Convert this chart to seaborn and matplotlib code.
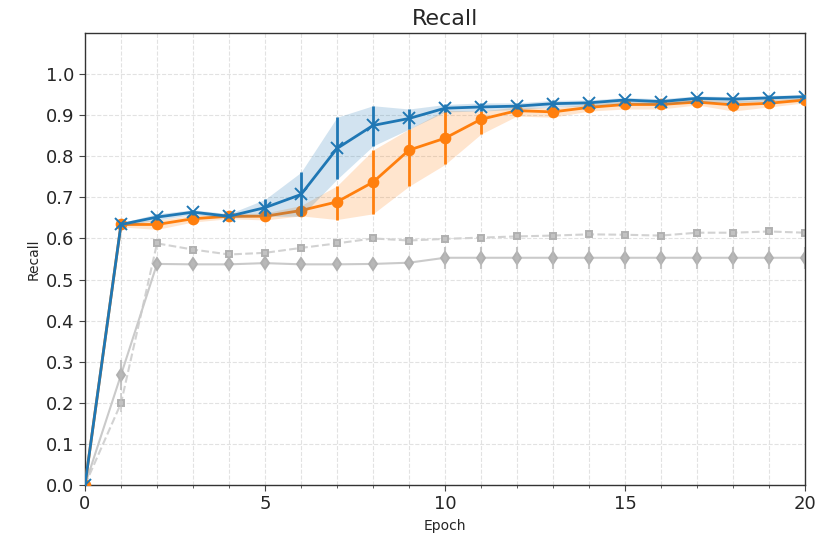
import numpy as np
import pandas as pd
import matplotlib
matplotlib.use("Agg")
import matplotlib.pyplot as plt
import seaborn as sns
from matplotlib.ticker import MultipleLocator

epochs = list(range(21))

blue_mean = [0.0, 0.634, 0.652, 0.664, 0.654, 0.675, 0.707, 0.819, 0.875, 0.892, 0.917,
             0.920, 0.922, 0.928, 0.930, 0.937, 0.933, 0.941, 0.939, 0.942, 0.945]
blue_lo = [0.0, 0.630, 0.645, 0.658, 0.650, 0.654, 0.654, 0.744, 0.825, 0.866, 0.908,
           0.910, 0.914, 0.920, 0.922, 0.930, 0.925, 0.934, 0.930, 0.935, 0.940]
blue_hi = [0.0, 0.638, 0.660, 0.670, 0.660, 0.695, 0.761, 0.895, 0.923, 0.915, 0.926,
           0.930, 0.930, 0.936, 0.937, 0.943, 0.940, 0.947, 0.945, 0.948, 0.950]

orange_mean = [0.0, 0.634, 0.634, 0.648, 0.654, 0.654, 0.668, 0.689, 0.737, 0.815, 0.844,
               0.890, 0.911, 0.908, 0.919, 0.926, 0.926, 0.932, 0.925, 0.929, 0.937]
orange_lo = [0.0, 0.628, 0.622, 0.640, 0.648, 0.645, 0.655, 0.646, 0.660, 0.727, 0.780,
             0.854, 0.898, 0.895, 0.910, 0.915, 0.915, 0.925, 0.910, 0.920, 0.930]
orange_hi = [0.0, 0.640, 0.645, 0.656, 0.660, 0.662, 0.680, 0.728, 0.815, 0.866, 0.912,
             0.910, 0.920, 0.918, 0.927, 0.935, 0.934, 0.940, 0.935, 0.938, 0.943]

sq_mean = [0.0, 0.199, 0.588, 0.573, 0.561, 0.565, 0.577, 0.588, 0.600, 0.595, 0.599,
           0.602, 0.605, 0.607, 0.610, 0.609, 0.607, 0.614, 0.614, 0.617, 0.614]
sq_lo = [0.0, 0.178, 0.583, 0.568, 0.556, 0.560, 0.572, 0.583, 0.595, 0.590, 0.594,
         0.597, 0.600, 0.602, 0.605, 0.604, 0.602, 0.609, 0.609, 0.612, 0.609]
sq_hi = [0.0, 0.224, 0.593, 0.578, 0.566, 0.570, 0.582, 0.593, 0.605, 0.600, 0.604,
         0.607, 0.610, 0.612, 0.615, 0.614, 0.612, 0.619, 0.619, 0.622, 0.619]

dm_mean = [0.0, 0.268, 0.538, 0.537, 0.537, 0.540, 0.537, 0.537, 0.538, 0.541, 0.553,
           0.553, 0.553, 0.553, 0.553, 0.553, 0.553, 0.553, 0.553, 0.553, 0.553]
dm_lo = [0.0, 0.232, 0.534, 0.533, 0.533, 0.536, 0.533, 0.533, 0.534, 0.537, 0.526,
         0.526, 0.526, 0.526, 0.526, 0.526, 0.526, 0.526, 0.526, 0.526, 0.526]
dm_hi = [0.0, 0.305, 0.542, 0.541, 0.541, 0.544, 0.541, 0.541, 0.542, 0.545, 0.580,
         0.580, 0.580, 0.580, 0.580, 0.580, 0.580, 0.580, 0.580, 0.580, 0.580]

sns.set_style("ticks")
plt.rcParams['font.family'] = ['DejaVu Sans']

fig = plt.figure(figsize=(8.31, 5.36), dpi=100)
ax = fig.add_axes([85/831, 1 - 485/536, 720/831, 452/536])

BLUE = '#1f77b4'
ORANGE = '#ff7f0e'

def draw(mean, lo, hi, color, marker, ms, lw, ls, mcolor, mec, alpha_band, z, band=True,
         elw=2.0, ealpha=1.0, malpha=1.0):
    df = pd.DataFrame({'Epoch': epochs, 'Recall': mean})
    sns.lineplot(data=df, x='Epoch', y='Recall', ax=ax, color=color, linewidth=lw,
                 linestyle=ls, marker=marker, markersize=ms, markerfacecolor=mcolor,
                 markeredgecolor=mec, markeredgewidth=1.4, zorder=z)
    if band:
        ax.fill_between(epochs, lo, hi, color=color, alpha=alpha_band, linewidth=0, zorder=z - 1)
    m = np.array(mean); l = np.array(lo); h = np.array(hi)
    ax.errorbar(epochs, mean, yerr=[m - l, h - m], fmt='none', ecolor=mcolor if not band else color,
                elinewidth=elw, capsize=0, alpha=ealpha, zorder=z)

draw(sq_mean, sq_lo, sq_hi, '#d2d2d2', 's', 5, 1.5, '--', '#c2c2c2', '#b0b0b0', 0.0, 2,
     band=False, elw=1.2, ealpha=0.8)
draw(dm_mean, dm_lo, dm_hi, '#cacaca', 'd', 6, 1.5, '-', '#b8b8b8', '#b0b0b0', 0.0, 2,
     band=False, elw=1.5, ealpha=0.8)
draw(orange_mean, orange_lo, orange_hi, ORANGE, 'o', 7, 2.0, '-', ORANGE, ORANGE, 0.2, 4)
draw(blue_mean, blue_lo, blue_hi, BLUE, 'x', 8, 2.0, '-', BLUE, BLUE, 0.2, 6)

ax.set_xlim(0, 20)
ax.set_ylim(0, 1.1)
ax.xaxis.set_major_locator(MultipleLocator(5))
ax.xaxis.set_minor_locator(MultipleLocator(1))
ax.set_yticks(np.arange(0, 1.01, 0.1))
ax.set_yticklabels([f"{v:.1f}" for v in np.arange(0, 1.01, 0.1)])
ax.grid(True, which='both', axis='x', linestyle='--', color='#e2e2e2', linewidth=0.8)
ax.grid(True, which='major', axis='y', linestyle='--', color='#e2e2e2', linewidth=0.8)
ax.set_axisbelow(True)
ax.tick_params(axis='both', which='major', labelsize=13, length=4, color='#444444')
ax.tick_params(axis='x', which='minor', length=2.5, color='#444444')
for s in ax.spines.values():
    s.set_visible(True)
    s.set_color('#333333')
    s.set_linewidth(1.0)
ax.set_title('Recall', fontsize=16, pad=6)
ax.set_xlabel('Epoch', fontsize=10)
ax.set_ylabel('Recall', fontsize=10)

fig.savefig('out.png', dpi=100)
